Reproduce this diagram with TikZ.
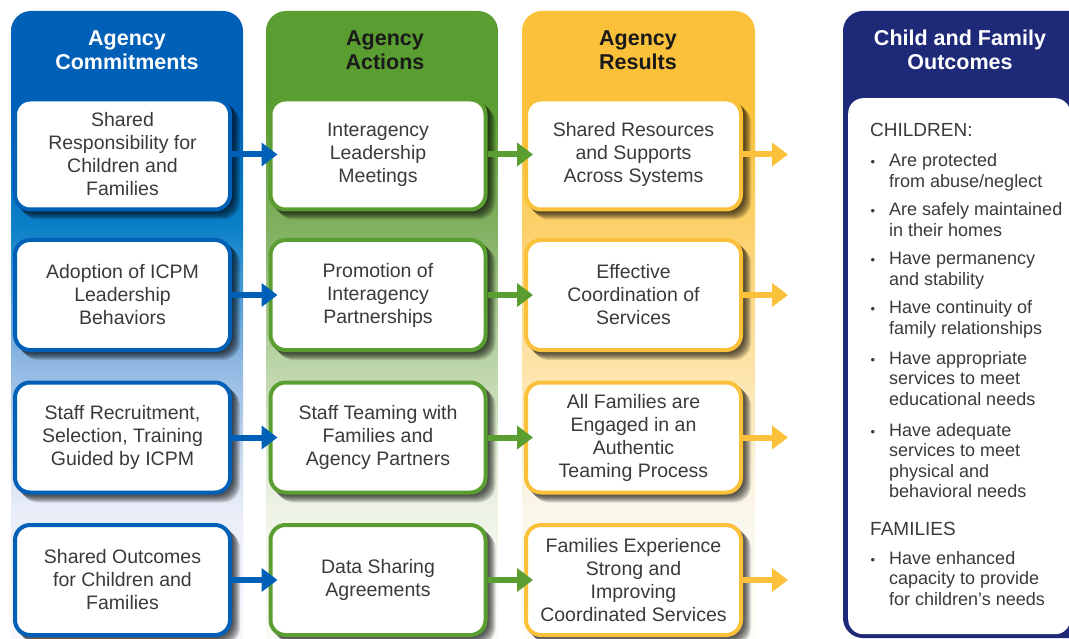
\documentclass[tikz,border=0pt]{standalone}
\usepackage{fontspec}
\setmainfont{Liberation Sans}
\usetikzlibrary{arrows.meta}
\pgfdeclarelayer{bg}
\pgfdeclarelayer{shad}
\pgfsetlayers{bg,shad,main}
\definecolor{cblue}{HTML}{0060B8}
\definecolor{cgreen}{HTML}{5A9E32}
\definecolor{cyellow}{HTML}{FBC13A}
\definecolor{cnavy}{HTML}{1E2A78}
\definecolor{txt}{HTML}{3A3A3A}
\definecolor{hdark}{HTML}{1A1A1A}
% blue stops
\definecolor{bA}{HTML}{F6F8FC}
\definecolor{bB}{HTML}{E8EDF8}
\definecolor{bC}{HTML}{90B8E2}
\definecolor{bD}{HTML}{0A80C8}
% green stops
\definecolor{gA}{HTML}{F9FBF6}
\definecolor{gB}{HTML}{EEF3E6}
\definecolor{gC}{HTML}{BCD5A8}
\definecolor{gD}{HTML}{80B060}
% yellow stops
\definecolor{yA}{HTML}{FEFCF7}
\definecolor{yB}{HTML}{FAF6EA}
\definecolor{yC}{HTML}{FDE3A8}
\definecolor{yD}{HTML}{FCD16A}
\pgfdeclareverticalshading{shblue}{100bp}{color(0bp)=(bA); color(27bp)=(bA); color(37bp)=(bB); color(48bp)=(bC); color(58.6bp)=(bD); color(67.8bp)=(cblue); color(100bp)=(cblue)}
\pgfdeclareverticalshading{shgreen}{100bp}{color(0bp)=(gA); color(27bp)=(gA); color(37bp)=(gB); color(48bp)=(gC); color(58.6bp)=(gD); color(67.8bp)=(cgreen); color(100bp)=(cgreen)}
\pgfdeclareverticalshading{shyellow}{100bp}{color(0bp)=(yA); color(27bp)=(yA); color(37bp)=(yB); color(48bp)=(yC); color(58.6bp)=(yD); color(67.8bp)=(cyellow); color(100bp)=(cyellow)}
\tikzset{
  bx/.style={rectangle, rounded corners=15pt, line width=4pt, fill=white,
    minimum width=215pt, minimum height=110pt, inner sep=0pt, align=center,
    text=txt, font=\fontsize{19.5}{23}\selectfont},
  hdr/.style={align=center, inner sep=0pt, font=\bfseries\fontsize{21.5}{24}\selectfont},
  li/.style={anchor=base west, inner sep=0pt, text=txt, font=\fontsize{18}{20.5}\selectfont},
  lhead/.style={anchor=base west, inner sep=0pt, text=txt, font=\fontsize{19}{22}\selectfont},
  bul/.style={anchor=base, inner sep=0pt, text=txt, font=\fontsize{13}{13}\selectfont},
  arr/.style={line width=6pt, -{Triangle[length=16pt,width=23pt]}},
}
\newcommand\mkbox[5]{%
  \node[bx, draw=#2] (#1) at (#3,#4) {#5};
  \begin{pgfonlayer}{shad}
    \foreach \s in {1,...,8}{\fill[black, opacity=0.12, rounded corners=17pt] ([shift={(\s,\s)}]#1.north west) rectangle ([shift={(\s,\s)}]#1.south east);}
  \end{pgfonlayer}}
\newcommand\lst[1]{\parbox[t]{175pt}{\raggedright #1}}
\begin{document}
\begin{tikzpicture}[x=1pt,y=-1pt]
\useasboundingbox (0,0) rectangle (1069,639);
\begin{pgfonlayer}{bg}
  \fill[white] (0,0) rectangle (1069,639);
  \shade[shading=shblue, rounded corners=20pt] (11,11) rectangle (243,665);
  \shade[shading=shgreen, rounded corners=20pt] (266,11) rectangle (498,665);
  \shade[shading=shyellow, rounded corners=20pt] (522,11) rectangle (755,665);
  \fill[cnavy, rounded corners=20pt] (843,11) rectangle (1100,638);
\end{pgfonlayer}
\node[fill=white, rounded corners=15pt, inner sep=0pt, minimum width=222pt, minimum height=536pt, anchor=north west] (outbox) at (848,98) {};

% headers
\node[hdr, text=white] (h1) at (127,50) {Agency\\Commitments};
\node[hdr, text=hdark] (h2) at (385,50) {Agency\\Actions};
\node[hdr, text=hdark] (h3) at (638,50) {Agency\\Results};
\node[hdr, text=white] (h4) at (960,50) {Child and Family\\Outcomes};

% boxes
\mkbox{b1}{cblue}{122.5}{154.5}{Shared\\Responsibility for\\Children and\\Families}
\mkbox{b2}{cblue}{122.5}{295}{Adoption of ICPM\\Leadership\\Behaviors}
\mkbox{b3}{cblue}{122.5}{437.5}{Staff Recruitment,\\Selection, Training\\Guided by ICPM}
\mkbox{b4}{cblue}{122.5}{580}{Shared Outcomes\\for Children and\\Families}
\mkbox{g1}{cgreen}{378}{154.5}{Interagency\\Leadership\\Meetings}
\mkbox{g2}{cgreen}{378}{295}{Promotion of\\Interagency\\Partnerships}
\mkbox{g3}{cgreen}{378}{437.5}{Staff Teaming with\\Families and\\Agency Partners}
\mkbox{g4}{cgreen}{378}{580}{Data Sharing\\Agreements}
\mkbox{y1}{cyellow}{633.5}{154.5}{Shared Resources\\and Supports\\Across Systems}
\mkbox{y2}{cyellow}{633.5}{295}{Effective\\Coordination of\\Services}
\mkbox{y3}{cyellow}{633.5}{437.5}{All Families are\\Engaged in an\\Authentic\\Teaming Process}
\mkbox{y4}{cyellow}{633.5}{580}{Families Experience\\Strong and\\Improving\\Coordinated Services}

% arrow ends
\coordinate (e1) at (788,154.5);
\coordinate (e2) at (788,295);
\coordinate (e3) at (788,437.5);
\coordinate (e4) at (788,580);

% arrows
\draw[arr, cblue] (b1.east) -- ([xshift=9pt]g1.west);
\draw[arr, cblue] (b2.east) -- ([xshift=9pt]g2.west);
\draw[arr, cblue] (b3.east) -- ([xshift=9pt]g3.west);
\draw[arr, cblue] (b4.east) -- ([xshift=9pt]g4.west);
\draw[arr, cgreen] (g1.east) -- ([xshift=9pt]y1.west);
\draw[arr, cgreen] (g2.east) -- ([xshift=9pt]y2.west);
\draw[arr, cgreen] (g3.east) -- ([xshift=9pt]y3.west);
\draw[arr, cgreen] (g4.east) -- ([xshift=9pt]y4.west);
\draw[arr, cyellow] (y1.east) -- (e1);
\draw[arr, cyellow] (y2.east) -- (e2);
\draw[arr, cyellow] (y3.east) -- (e3);
\draw[arr, cyellow] (y4.east) -- (e4);

% outcomes list
\node[lhead] (chd) at (870,137) {CHILDREN:};
\node[bul] (d1) at (873,167) {•};
\node[li] (l1) at (889,167) {\lst{Are protected\\from abuse/neglect}};
\node[bul] (d2) at (873,216) {•};
\node[li] (l2) at (889,216) {\lst{Are safely maintained\\in their homes}};
\node[bul] (d3) at (873,265) {•};
\node[li] (l3) at (889,265) {\lst{Have permanency\\and stability}};
\node[bul] (d4) at (873,314) {•};
\node[li] (l4) at (889,314) {\lst{Have continuity of\\family relationships}};
\node[bul] (d5) at (873,364.5) {•};
\node[li] (l5) at (889,364.5) {\lst{Have appropriate\\services to meet\\educational needs}};
\node[bul] (d6) at (873,436) {•};
\node[li] (l6) at (889,436) {\lst{Have adequate\\services to meet\\physical and\\behavioral needs}};
\node[lhead] (fam) at (870,535) {FAMILIES};
\node[bul] (d7) at (873,564) {•};
\node[li] (l7) at (889,564) {\lst{Have enhanced\\capacity to provide\\for children’s needs}};
\end{tikzpicture}
\end{document}
